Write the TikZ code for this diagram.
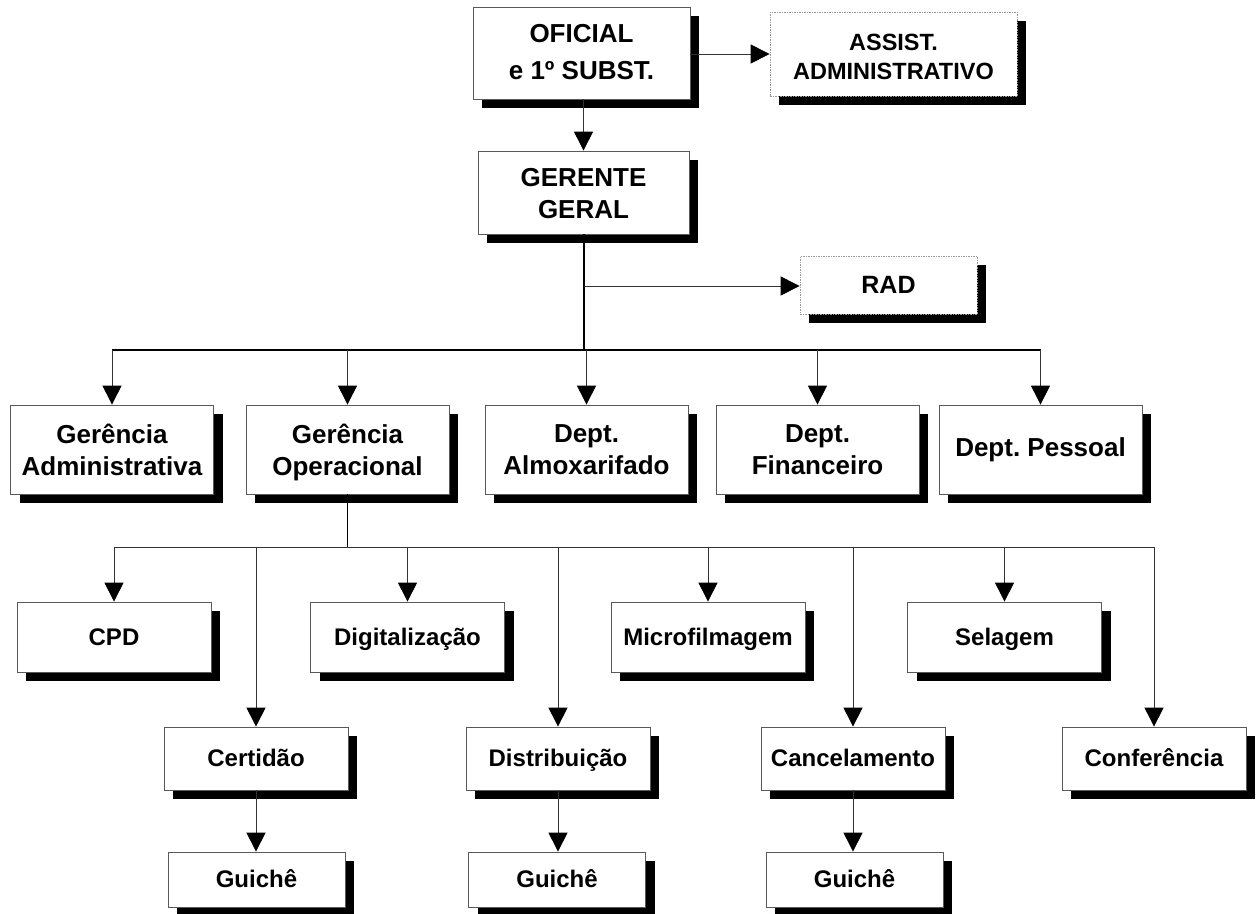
\documentclass[tikz,border=0pt]{standalone}
\usepackage{fontspec}
\setmainfont{Liberation Sans}
\usetikzlibrary{arrows.meta,shadows}
\frenchspacing
\begin{document}
\begin{tikzpicture}[x=1pt,y=-1pt,
  box/.style={draw=black!65, line width=0.8pt, fill=white, align=center, inner sep=0pt,
    execute at begin node={\vphantom{Ê}}, execute at end node={\vphantom{gp}},
    drop shadow={shadow xshift=9pt, shadow yshift=-9pt, fill=black, opacity=1}},
  txt/.style={align=center, inner sep=0pt,
    execute at begin node={\vphantom{Ê}}, execute at end node={\vphantom{gp}}},
  dbox/.style={box, draw=black!40, dash pattern=on 1.5pt off 1pt},
  fA/.style={font=\bfseries\fontsize{26}{37}\selectfont},
  fB/.style={font=\bfseries\fontsize{26}{32}\selectfont},
  fC/.style={font=\bfseries\fontsize{23.5}{29}\selectfont},
  fD/.style={font=\bfseries\fontsize{25}{30}\selectfont},
  fE/.style={font=\bfseries\fontsize{24}{30}\selectfont},
  rowtwo/.style={box, minimum width=203pt, minimum height=89pt},
  rowthree/.style={box, fE, minimum width=194pt, minimum height=70pt},
  rowfour/.style={box, fE, minimum width=184pt, minimum height=63pt},
  rowfive/.style={box, fE, minimum width=177pt, minimum height=55pt},
  tip/.style={-{Triangle[length=19pt,width=19pt,color=black,fill=black]}},
  arr/.style={draw=black!80, line width=1pt, tip},
  conn/.style={draw=black!80, line width=1pt},
  bus/.style={draw=black, line width=1.4pt},
  trunk/.style={draw=black, line width=2pt}]
\fill[white] (0,0) rectangle (1258,913);
\useasboundingbox (0,0) rectangle (1258,913);

% top
\node[box, minimum width=217pt, minimum height=92pt] (ofi) at (581.5,53) {};
\node[txt, fA] (ofit) at ([yshift=-2pt]ofi.center) {OFICIAL\\e 1º SUBST.};
\node[dbox, minimum width=247pt, minimum height=84pt] (asst) at (893.5,54) {};
\node[txt, fC] (asstt) at ([yshift=-5pt]asst.center) {ASSIST.\\ADMINISTRATIVO};
\node[box, minimum width=211pt, minimum height=83pt] (ger) at (583.5,192.5) {};
\node[txt, fB] (gert) at ([yshift=-4pt]ger.center) {GERENTE\\GERAL};
\node[dbox, fD, minimum width=177pt, minimum height=58pt] (rad) at (888.5,285) {RAD};

% row 2
\node[rowtwo] (gadm) at (112,449.5) {};
\node[txt, fB] (gadmt) at ([yshift=-3pt]gadm.center) {Gerência\\Administrativa};
\node[rowtwo] (gop) at (347.5,449.5) {};
\node[txt, fB] (gopt) at ([yshift=-3pt]gop.center) {Gerência\\Operacional};
\node[rowtwo] (alm) at (586.5,449.5) {};
\node[txt, fB] (almt) at ([yshift=-3pt]alm.center) {Dept.\\Almoxarifado};
\node[rowtwo] (fin) at (817.5,449.5) {};
\node[txt, fB] (fint) at ([yshift=-3pt]fin.center) {Dept.\\Financeiro};
\node[rowtwo] (pes) at (1040.5,449.5) {};
\node[txt, fB] (pest) at ([yshift=2pt]pes.center) {Dept. Pessoal};

% row 3
\node[rowthree] (cpd) at (114,637) {CPD};
\node[rowthree] (dig) at (407.5,637) {Digitalização};
\node[rowthree] (mic) at (708,637) {Microfilmagem};
\node[rowthree] (sel) at (1004.5,637) {Selagem};

% row 4
\node[rowfour] (cer) at (256,758.5) {Certidão};
\node[rowfour] (dis) at (558,758.5) {Distribuição};
\node[rowfour] (can) at (853,758.5) {Cancelamento};
\node[rowfour] (con) at (1154,758.5) {Conferência};

% row 5
\node[rowfive] (gu1) at (256.5,879.5) {Guichê};
\node[rowfive] (gu2) at (557,879.5) {Guichê};
\node[rowfive] (gu3) at (854.5,879.5) {Guichê};

% connectors
\coordinate (b1) at (583.5,350);
\coordinate (rj) at (583.5,286);
\coordinate (b2) at (347.5,547);

\draw[arr] (ofi.east |- asst) -- (asst.west);
\draw[arr] (ofi.south -| ger) -- (ger.north);
\draw[trunk] (ger.south) -- (b1);
\draw[arr] (rj) -- (rj -| rad.west);
\draw[bus] (b1 -| gadm) -- (b1 -| pes);
\foreach \n in {gadm,gop,alm,fin,pes}{
  \draw[arr] (b1 -| \n) -- (\n.north);
}
\draw[bus] (gop.south) -- (b2);
\draw[conn] (b2 -| cpd) -- (b2 -| con);
\foreach \n in {cpd,dig,mic,sel,cer,dis,can,con}{
  \draw[arr] (b2 -| \n) -- (\n.north);
}
\draw[arr] (cer.south) -- (gu1.north -| cer);
\draw[arr] (dis.south) -- (gu2.north -| dis);
\draw[arr] (can.south) -- (gu3.north -| can);
\end{tikzpicture}
\end{document}
